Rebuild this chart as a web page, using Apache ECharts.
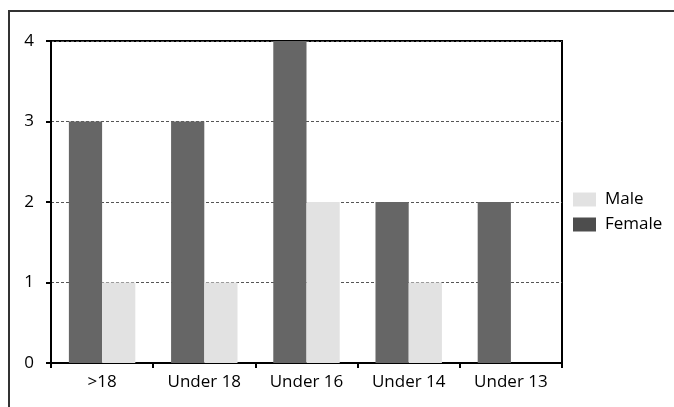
<!DOCTYPE html>
<html>
<head>
<meta charset="utf-8">
<script src="https://cdn.jsdelivr.net/npm/echarts@6/dist/echarts.min.js"></script>
<style>
  html, body { margin: 0; padding: 0; background: #fff; }
  #chart { width: 674px; height: 407px; }
</style>
</head>
<body>
<div id="chart"></div>
<script>
const categories = ['>18', 'Under 18', 'Under 16', 'Under 14', 'Under 13'];
const femaleValues = [3, 3, 4, 2, 2];
const maleValues = [1, 1, 2, 1, 0];
const yTicks = [0, 1, 2, 3, 4];

const FONT = '"Open Sans", "Liberation Sans", Arial, sans-serif';
const chart = echarts.init(document.getElementById('chart'), null, { renderer: 'canvas' });

chart.setOption({
  animation: false,
  backgroundColor: '#fff',
  graphic: [{
    type: 'rect',
    shape: { x: 9, y: 11, width: 720, height: 460 },
    style: { fill: 'none', stroke: '#333', lineWidth: 2 },
    z: 0
  }],
  grid: {
    left: 51, top: 41, right: 112, bottom: 44,
    show: true, borderColor: '#000', borderWidth: 2, backgroundColor: '#fff'
  },
  legend: {
    orient: 'vertical',
    left: 573, top: 191, padding: 0,
    itemWidth: 23, itemHeight: 14, itemGap: 8,
    icon: 'rect',
    textStyle: { fontFamily: FONT, fontSize: 17, color: '#000', padding: [0, 0, 0, 4] },
    data: [
      { name: 'Male', itemStyle: { color: '#e2e2e2' } },
      { name: 'Female', itemStyle: { color: '#4d4d4d' } }
    ]
  },
  xAxis: {
    type: 'category',
    data: categories,
    boundaryGap: true,
    axisLine: { show: true, lineStyle: { color: '#000', width: 2 } },
    axisTick: { show: true, length: 5, lineStyle: { color: '#000', width: 2 } },
    axisLabel: { fontFamily: FONT, fontSize: 17, color: '#000', margin: 11 }
  },
  yAxis: {
    type: 'value',
    min: yTicks[0], max: yTicks[yTicks.length - 1], interval: 1,
    axisLine: { show: true, lineStyle: { color: '#000', width: 2 } },
    axisTick: { show: true, length: 5, lineStyle: { color: '#000', width: 2 } },
    axisLabel: { fontFamily: FONT, fontSize: 17, color: '#000', margin: 17 },
    splitLine: { show: true, lineStyle: { color: '#555', width: 1, type: [3, 2] } }
  },
  series: [
    {
      name: 'Female', type: 'bar', data: femaleValues,
      itemStyle: { color: '#666666' },
      barGap: '0%', barCategoryGap: '35%'
    },
    {
      name: 'Male', type: 'bar', data: maleValues,
      itemStyle: { color: '#e2e2e2' },
      barGap: '0%', barCategoryGap: '35%'
    }
  ]
});
</script>
</body>
</html>
